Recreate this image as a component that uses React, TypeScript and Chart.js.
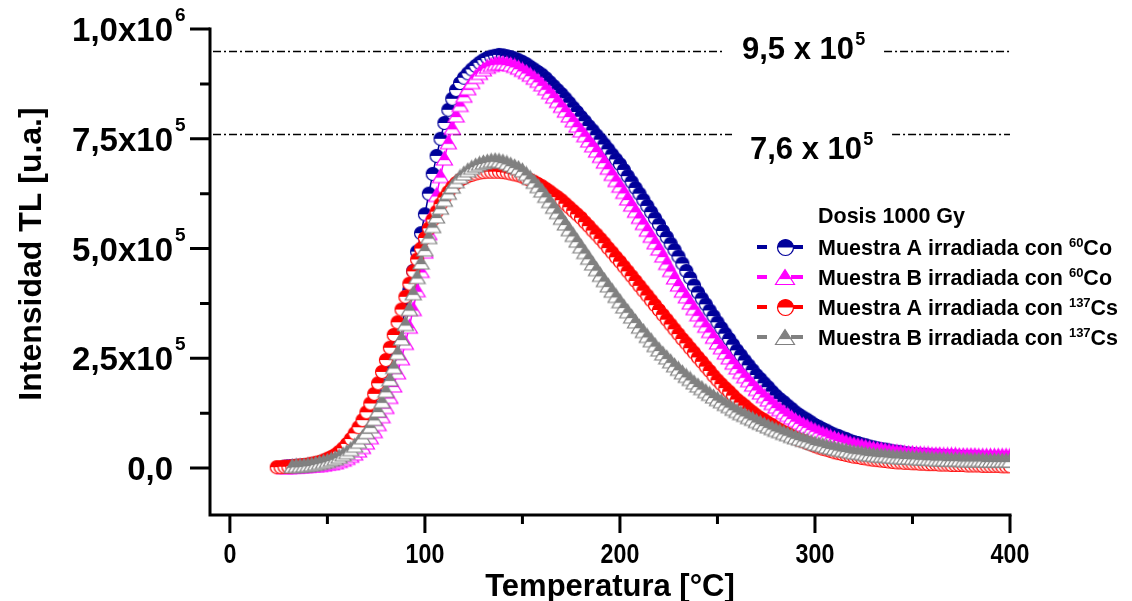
import { useEffect, useRef } from "react";
import { Chart, registerables } from "chart.js";

Chart.register(...registerables);

// Temperature of each reading (°C)
const temperaturaC = [
  24, 26, 28, 30, 32, 34, 36, 38, 40, 42,
  44, 46, 48, 50, 52, 54, 56, 58, 60, 62,
  64, 66, 68, 70, 72, 74, 76, 78, 80, 82,
  84, 86, 88, 90, 92, 94, 96, 98, 100, 102,
  104, 106, 108, 110, 112, 114, 116, 118, 120, 122,
  124, 126, 128, 130, 132, 134, 136, 138, 140, 142,
  144, 146, 148, 150, 152, 154, 156, 158, 160, 162,
  164, 166, 168, 170, 172, 174, 176, 178, 180, 182,
  184, 186, 188, 190, 192, 194, 196, 198, 200, 202,
  204, 206, 208, 210, 212, 214, 216, 218, 220, 222,
  224, 226, 228, 230, 232, 234, 236, 238, 240, 242,
  244, 246, 248, 250, 252, 254, 256, 258, 260, 262,
  264, 266, 268, 270, 272, 274, 276, 278, 280, 282,
  284, 286, 288, 290, 292, 294, 296, 298, 300, 302,
  304, 306, 308, 310, 312, 314, 316, 318, 320, 322,
  324, 326, 328, 330, 332, 334, 336, 338, 340, 342,
  344, 346, 348, 350, 352, 354, 356, 358, 360, 362,
  364, 366, 368, 370, 372, 374, 376, 378, 380, 382,
  384, 386, 388, 390, 392, 394, 396, 398, 400,
];

// TL intensity, in units of 10^3 u.a. (null = no reading)
const muestraA60Co = [
  null, null, 3, 4, 4, 5, 5, 6, 7, 8,
  9, 10, 12, 14, 16, 19, 23, 28, 33, 40,
  48, 58, 70, 84, 100, 118, 139, 162, 188, 218,
  250, 285, 322, 362, 405, 449, 493, 535, 578, 625,
  670, 711, 750, 786, 816, 841, 861, 877, 889, 899,
  908, 916, 923, 929, 934, 937, 939, 941, 940, 938,
  936, 933, 929, 925, 920, 914, 908, 902, 896, 888,
  879, 870, 861, 852, 842, 832, 821, 811, 800, 790,
  779, 769, 758, 748, 737, 726, 714, 703, 692, 679,
  665, 652, 638, 625, 611, 597, 583, 569, 555, 540,
  526, 511, 497, 482, 466, 449, 433, 416, 400, 386,
  373, 359, 346, 332, 319, 306, 294, 281, 268, 257,
  245, 234, 223, 212, 203, 193, 184, 174, 165, 157,
  150, 142, 135, 127, 121, 115, 110, 104, 98, 94,
  89, 85, 80, 76, 73, 69, 66, 62, 59, 57,
  54, 52, 49, 47, 45, 43, 42, 40, 38, 37,
  36, 34, 33, 32, 31, 30, 30, 29, 28, 28,
  27, 27, 26, 26, 26, 25, 25, 24, 24, 24,
  24, 23, 23, 23, 23, 22, 22, 22, 22,
];

const muestraB60Co = [
  null, null, 2, 2, 3, 3, 4, 4, 5, 6,
  6, 7, 8, 10, 11, 13, 16, 19, 23, 28,
  33, 40, 48, 58, 70, 84, 100, 118, 139, 162,
  188, 218, 250, 285, 322, 362, 405, 449, 493, 535,
  578, 622, 665, 705, 742, 775, 803, 827, 848, 865,
  879, 891, 900, 908, 914, 918, 921, 922, 922, 921,
  919, 916, 912, 907, 902, 896, 889, 882, 874, 865,
  856, 846, 836, 825, 814, 803, 792, 780, 769, 758,
  746, 735, 723, 711, 698, 684, 670, 656, 643, 629,
  614, 600, 586, 572, 558, 543, 529, 514, 500, 484,
  467, 451, 434, 418, 404, 391, 377, 364, 350, 337,
  324, 312, 299, 286, 275, 263, 252, 240, 229, 219,
  209, 200, 190, 180, 172, 164, 156, 148, 140, 134,
  127, 121, 115, 109, 104, 99, 95, 90, 86, 82,
  78, 75, 71, 68, 65, 62, 59, 56, 54, 52,
  50, 48, 46, 44, 43, 42, 40, 39, 38, 37,
  36, 35, 34, 34, 33, 33, 32, 32, 31, 31,
  31, 30, 30, 30, 30, 29, 29, 29, 29, 29,
  28, 28, 28, 28, 28, 28, 28, 28, 28,
];

const muestraA137Cs = [
  2, 2, 3, 3, 4, 5, 6, 7, 8, 10,
  12, 14, 17, 21, 25, 30, 37, 45, 55, 66,
  79, 93, 109, 127, 147, 169, 193, 219, 246, 274,
  303, 332, 361, 390, 420, 448, 475, 500, 524, 546,
  566, 584, 601, 616, 629, 640, 649, 656, 661, 665,
  668, 671, 673, 674, 675, 675, 675, 675, 674, 673,
  671, 669, 667, 664, 660, 656, 652, 647, 642, 636,
  630, 623, 617, 610, 602, 594, 586, 578, 570, 560,
  551, 541, 532, 522, 512, 501, 491, 480, 470, 459,
  448, 437, 426, 415, 404, 393, 382, 371, 360, 349,
  338, 327, 316, 305, 294, 284, 273, 263, 252, 242,
  231, 221, 210, 200, 191, 182, 174, 165, 156, 149,
  142, 134, 127, 120, 114, 109, 103, 98, 92, 87,
  82, 78, 73, 68, 64, 61, 57, 54, 50, 47,
  44, 42, 39, 36, 34, 32, 30, 28, 26, 25,
  23, 22, 20, 19, 18, 17, 16, 15, 14, 13,
  13, 12, 12, 11, 11, 10, 10, 9, 9, 9,
  8, 8, 8, 7, 7, 7, 7, 6, 6, 6,
  6, 5, 5, 5, 5, 5, 4, 4, 4,
];

const muestraB137Cs = [
  null, null, null, null, 4, 5, 5, 6, 7, 8,
  10, 12, 14, 16, 19, 22, 26, 31, 36, 43,
  51, 60, 70, 82, 95, 112, 131, 152, 176, 202,
  230, 262, 295, 328, 362, 398, 435, 468, 498, 526,
  551, 573, 593, 611, 627, 641, 653, 663, 671, 678,
  684, 689, 693, 696, 698, 700, 701, 700, 698, 695,
  691, 687, 683, 678, 670, 661, 652, 642, 632, 620,
  608, 595, 583, 570, 557, 544, 531, 518, 505, 492,
  479, 466, 453, 440, 428, 416, 404, 392, 380, 368,
  357, 345, 334, 322, 312, 301, 291, 280, 270, 261,
  252, 243, 234, 226, 218, 210, 203, 195, 188, 182,
  175, 169, 163, 157, 152, 146, 141, 135, 130, 125,
  121, 116, 112, 107, 103, 99, 95, 91, 87, 84,
  80, 77, 73, 70, 67, 64, 62, 59, 56, 54,
  52, 49, 47, 45, 43, 41, 40, 38, 36, 35,
  34, 32, 31, 30, 29, 28, 28, 27, 26, 25,
  25, 24, 24, 23, 23, 22, 22, 21, 21, 20,
  20, 20, 19, 19, 19, 19, 18, 18, 18, 18,
  18, 18, 17, 17, 17, 17, 17, 17, 17,
];

// Axis ticks (x in °C, y in 10^3 u.a.)
const xTickValues = [0, 100, 200, 300, 400];
const xMinorTickValues = [50, 150, 250, 350];
const yTickValues = [0, 250, 500, 750, 1000];
const yMinorTickValues = [125, 375, 625, 875];
const yTickBase = ["0,0", "2,5x10", "5,0x10", "7,5x10", "1,0x10"];
const yTickExp = ["", "5", "5", "5", "6"];

// Reference levels (10^3 u.a.) and their labels
const refLineValues = [950, 760];
const refLineBase = ["9,5 x 10", "7,6 x 10"];
const refLineExp = ["5", "5"];

// Legend
const legendTitle = "Dosis 1000 Gy";
const legendBase = [
  "Muestra A irradiada con ",
  "Muestra B irradiada con ",
  "Muestra A irradiada con ",
  "Muestra B irradiada con ",
];
const legendMass = ["60", "60", "137", "137"];
const legendElement = ["Co", "Co", "Cs", "Cs"];

const xTitle = "Temperatura [°C]";
const yTitle = "Intensidad TL [u.a.]";

const FONT = '"Liberation Sans", Arial, Helvetica, sans-serif';
const COLORS = ["#00009A", "#FF00FF", "#FF0000", "#808080"];
const SHAPES = ["circle", "triangle", "circle", "triangle"];

function halfCircle(color: string, r: number): HTMLCanvasElement {
  const s = Math.ceil(2 * r + 3);
  const c = document.createElement("canvas");
  c.width = s;
  c.height = s;
  const g = c.getContext("2d")!;
  const m = s / 2;
  g.beginPath();
  g.arc(m, m, r, 0, Math.PI * 2);
  g.fillStyle = "#ffffff";
  g.fill();
  g.beginPath();
  g.arc(m, m, r, Math.PI, 0);
  g.closePath();
  g.fillStyle = color;
  g.fill();
  g.beginPath();
  g.arc(m, m, r, 0, Math.PI * 2);
  g.strokeStyle = color;
  g.lineWidth = 1.2;
  g.stroke();
  return c;
}

function halfTriangle(color: string, w: number, h: number): HTMLCanvasElement {
  const pad = 1.5;
  const c = document.createElement("canvas");
  c.width = Math.ceil(w + 2 * pad);
  c.height = Math.ceil(h + 2 * pad);
  const g = c.getContext("2d")!;
  const cx = c.width / 2;
  const top = pad;
  const bottom = pad + h;
  const path = () => {
    g.beginPath();
    g.moveTo(cx, top);
    g.lineTo(cx + w / 2, bottom);
    g.lineTo(cx - w / 2, bottom);
    g.closePath();
  };
  path();
  g.fillStyle = "#ffffff";
  g.fill();
  g.save();
  path();
  g.clip();
  g.fillStyle = color;
  g.fillRect(0, 0, c.width, top + h * 0.64);
  g.restore();
  path();
  g.strokeStyle = color;
  g.lineWidth = 1.2;
  g.stroke();
  return c;
}

function makeMarker(i: number, big: boolean): HTMLCanvasElement {
  if (SHAPES[i] === "circle") return halfCircle(COLORS[i], big ? 8 : 6.5);
  return big ? halfTriangle(COLORS[i], 19, 15) : halfTriangle(COLORS[i], 16, 13.5);
}

type Run = { text: string; size: number; rise: number };

function drawRuns(
  ctx: CanvasRenderingContext2D,
  runs: Run[],
  x: number,
  baseline: number,
  align: "left" | "right" | "center",
  scaleX = 1
) {
  const widths = runs.map((r) => {
    ctx.font = `bold ${r.size}px ${FONT}`;
    return ctx.measureText(r.text).width * scaleX;
  });
  const total = widths.reduce((a, b) => a + b, 0);
  let cx = align === "left" ? x : align === "right" ? x - total : x - total / 2;
  ctx.save();
  ctx.textAlign = "left";
  ctx.textBaseline = "alphabetic";
  ctx.fillStyle = "#000";
  runs.forEach((r, i) => {
    ctx.font = `bold ${r.size}px ${FONT}`;
    ctx.save();
    ctx.translate(cx, baseline - r.rise);
    ctx.scale(scaleX, 1);
    ctx.fillText(r.text, 0, 0);
    ctx.restore();
    cx += widths[i];
  });
  ctx.restore();
  return total;
}

// Layout (pixels)
const Y_LABEL_RIGHT = 173;
const ANNOT_LEFT = [742, 750];
const ANNOT_CENTER_Y = [48, 148];
const ANNOT_SIZE = 31;
const ANNOT_EXP_SIZE = 18;
const LEGEND_TEXT_X = 818;
const LEGEND_MARK_X = 785;
const LEGEND_TITLE_Y = 215;
const LEGEND_ROWS_Y = [247, 277, 307, 337];
const LEGEND_SIZE = 21.5;

function makeDecor(legendMarkers: HTMLCanvasElement[]) {
  return {
    id: "decor",
    beforeDatasetsDraw(chart: any) {
      const { ctx, chartArea: a } = chart;
      const ys = chart.scales.y;
      ctx.save();
      ctx.strokeStyle = "#000";
      ctx.lineWidth = 1.3;
      ctx.setLineDash([8, 3, 2, 3]);
      refLineValues.forEach((v, i) => {
        const py = Math.round(ys.getPixelForValue(v)) + 0.5;
        ctx.font = `bold ${ANNOT_SIZE}px ${FONT}`;
        const wBase = ctx.measureText(refLineBase[i]).width;
        ctx.font = `bold ${ANNOT_EXP_SIZE}px ${FONT}`;
        const wExp = ctx.measureText(refLineExp[i]).width;
        const gapL = ANNOT_LEFT[i] - 18;
        const gapR = ANNOT_LEFT[i] + wBase + wExp + 2 + 18;
        ctx.beginPath();
        ctx.moveTo(a.left + 3, py);
        ctx.lineTo(gapL, py);
        ctx.moveTo(gapR, py);
        ctx.lineTo(a.right, py);
        ctx.stroke();
      });
      ctx.restore();
    },
    afterDraw(chart: any) {
      const { ctx, chartArea: a } = chart;
      const xs = chart.scales.x;
      const ys = chart.scales.y;
      ctx.save();
      ctx.strokeStyle = "#000";
      ctx.lineWidth = 3;
      ctx.lineCap = "butt";
      ctx.beginPath();
      ctx.moveTo(a.left, a.top - 1.5);
      ctx.lineTo(a.left, a.bottom);
      ctx.lineTo(a.right + 1.5, a.bottom);
      ctx.stroke();

      ctx.beginPath();
      yTickValues.forEach((v) => {
        const py = ys.getPixelForValue(v);
        ctx.moveTo(a.left - 20, py);
        ctx.lineTo(a.left, py);
      });
      yMinorTickValues.forEach((v) => {
        const py = ys.getPixelForValue(v);
        ctx.moveTo(a.left - 10, py);
        ctx.lineTo(a.left, py);
      });
      xTickValues.forEach((v) => {
        const px = xs.getPixelForValue(v);
        ctx.moveTo(px, a.bottom);
        ctx.lineTo(px, a.bottom + 18);
      });
      xMinorTickValues.forEach((v) => {
        const px = xs.getPixelForValue(v);
        ctx.moveTo(px, a.bottom);
        ctx.lineTo(px, a.bottom + 9);
      });
      ctx.stroke();
      ctx.restore();

      // y tick labels with exponents
      yTickValues.forEach((v, i) => {
        const py = ys.getPixelForValue(v);
        drawRuns(ctx, [{ text: yTickBase[i], size: 33, rise: 0 }], Y_LABEL_RIGHT, py + 12, "right");
        if (yTickExp[i]) {
          drawRuns(ctx, [{ text: yTickExp[i], size: 19, rise: 0 }], Y_LABEL_RIGHT + 2, py - 8, "left");
        }
      });

      // x tick labels
      xTickValues.forEach((v) => {
        const px = xs.getPixelForValue(v);
        drawRuns(ctx, [{ text: String(v), size: 28, rise: 0 }], px, 563, "center", 0.83);
      });

      // axis titles
      drawRuns(ctx, [{ text: xTitle, size: 31, rise: 0 }], (a.left + a.right) / 2, 596, "center");
      ctx.save();
      ctx.translate(29, (a.top + a.bottom) / 2 - 18);
      ctx.rotate(-Math.PI / 2);
      drawRuns(ctx, [{ text: yTitle, size: 32, rise: 0 }], 0, 11.5, "center");
      ctx.restore();

      // reference level labels
      refLineValues.forEach((_, i) => {
        const base = ANNOT_CENTER_Y[i] + ANNOT_SIZE * 0.358;
        drawRuns(
          ctx,
          [
            { text: refLineBase[i], size: ANNOT_SIZE, rise: 0 },
            { text: " ", size: 4, rise: 0 },
            { text: refLineExp[i], size: ANNOT_EXP_SIZE, rise: 14 },
          ],
          ANNOT_LEFT[i],
          base,
          "left"
        );
      });

      // legend
      drawRuns(
        ctx,
        [{ text: legendTitle, size: LEGEND_SIZE, rise: 0 }],
        LEGEND_TEXT_X,
        LEGEND_TITLE_Y + LEGEND_SIZE * 0.358,
        "left"
      );
      LEGEND_ROWS_Y.forEach((ry, i) => {
        ctx.save();
        ctx.strokeStyle = COLORS[i];
        ctx.lineWidth = 4;
        ctx.beginPath();
        ctx.moveTo(757, ry);
        ctx.lineTo(767, ry);
        ctx.moveTo(791, ry);
        ctx.lineTo(803, ry);
        ctx.stroke();
        const m = legendMarkers[i];
        ctx.drawImage(m, Math.round(LEGEND_MARK_X - m.width / 2), Math.round(ry - m.height / 2));
        ctx.restore();
        drawRuns(
          ctx,
          [
            { text: legendBase[i], size: LEGEND_SIZE, rise: 0 },
            { text: legendMass[i], size: 13, rise: 8 },
            { text: legendElement[i], size: LEGEND_SIZE, rise: 0 },
          ],
          LEGEND_TEXT_X,
          ry + LEGEND_SIZE * 0.358,
          "left"
        );
      });
    },
  };
}

const seriesValues = [muestraA60Co, muestraB60Co, muestraA137Cs, muestraB137Cs];

export default function App() {
  const canvasRef = useRef<HTMLCanvasElement>(null);

  useEffect(() => {
    const canvas = canvasRef.current;
    if (!canvas) return;
    const markers = seriesValues.map((_, i) => makeMarker(i, false));
    const legendMarkers = seriesValues.map((_, i) => makeMarker(i, true));

    const datasets = seriesValues.map((vals, i) => ({
      label: legendBase[i] + legendMass[i] + legendElement[i],
      data: temperaturaC
        .map((t, k) => ({ x: t, y: vals[k] }))
        .filter((p) => p.y !== null),
      borderColor: COLORS[i],
      backgroundColor: COLORS[i],
      borderWidth: 1.5,
      pointStyle: markers[i],
      pointRadius: 6,
      pointHoverRadius: 6,
      tension: 0,
      order: seriesValues.length - 1 - i,
    }));

    const chart = new Chart(canvas, {
      type: "line",
      data: { datasets } as any,
      options: {
        responsive: false,
        animation: false,
        devicePixelRatio: 1,
        events: [],
        layout: { padding: { left: 210, right: 122, top: 29, bottom: 86 } },
        scales: {
          x: { type: "linear", min: -10.2, max: 400, display: false },
          y: { type: "linear", min: -107, max: 1000, display: false },
        },
        plugins: {
          legend: { display: false },
          tooltip: { enabled: false },
        },
      },
      plugins: [makeDecor(legendMarkers)],
    } as any);

    return () => chart.destroy();
  }, []);

  return (
    <div
      style={{
        position: "fixed",
        left: 0,
        top: 0,
        width: 1132,
        height: 601,
        background: "#ffffff",
      }}
    >
      <canvas
        ref={canvasRef}
        width={1132}
        height={601}
        style={{ display: "block", width: 1132, height: 601 }}
      />
    </div>
  );
}
